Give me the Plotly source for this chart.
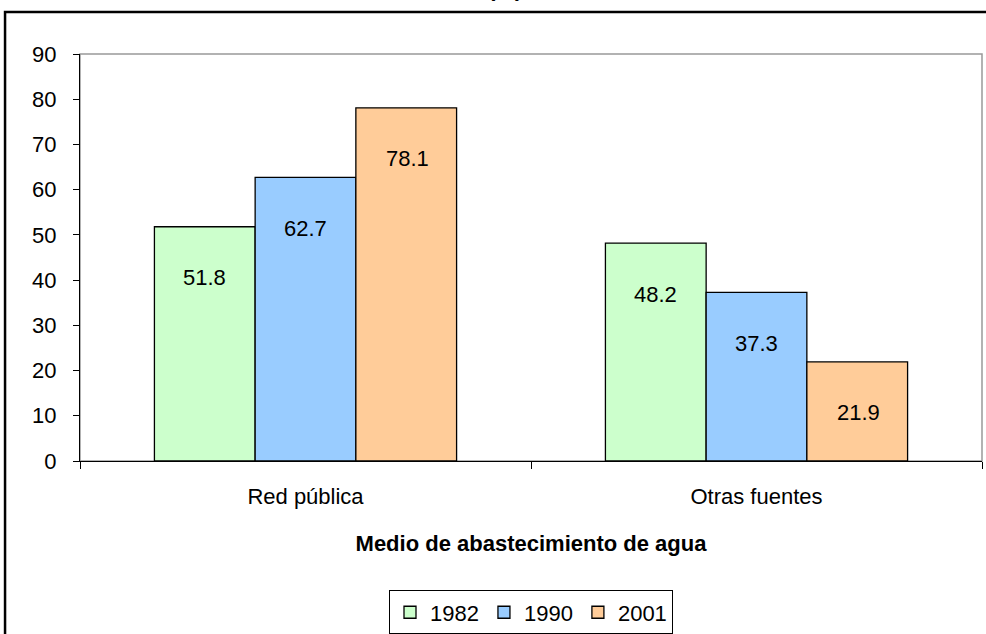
import plotly.graph_objects as go

categories = ["Red pública", "Otras fuentes"]
years = ["1982", "1990", "2001"]
values_1982 = [51.8, 48.2]
values_1990 = [62.7, 37.3]
values_2001 = [78.1, 21.9]
colors = ["#CCFFCC", "#99CCFF", "#FFCC99"]

series = [values_1982, values_1990, values_2001]
FONT = "Liberation Sans, Arial, sans-serif"
FS = 22

fig = go.Figure()
for yr, vals, col in zip(years, series, colors):
    fig.add_trace(go.Bar(
        name=yr, x=categories, y=vals,
        marker=dict(color=col, line=dict(color="black", width=1.3)),
        textposition="none",
        offsetgroup=yr,
    ))

# data labels near the top inside each bar
n = len(years)
for i, (yr, vals) in enumerate(zip(years, series)):
    for j, v in enumerate(vals):
        fig.add_annotation(
            x=j, y=v, xref="x", yref="y",
            text=f"{v:.1f}", showarrow=False,
            xshift=(i - (n - 1) / 2) * 101.5,
            yshift=-51,
            font=dict(size=FS, color="black", family=FONT),
        )

fig.update_layout(
    width=986, height=634,
    margin=dict(l=80, r=4, t=54, b=173, autoexpand=False),
    paper_bgcolor="white", plot_bgcolor="white",
    barmode="group", bargap=0.33, bargroupgap=0,
    font=dict(family=FONT, size=FS, color="black"),
    showlegend=True,
    legend=dict(
        orientation="h", x=0.5, xanchor="center", y=-0.318, yanchor="top",
        bordercolor="black", borderwidth=1, bgcolor="white",
        font=dict(size=FS, family=FONT), itemwidth=30, tracegroupgap=0,
    ),
    xaxis=dict(
        type="category", showline=True, linecolor="black", linewidth=1.3,
        ticks="outside", tickson="boundaries", ticklen=7, tickcolor="black",
        showgrid=False, automargin=False, ticklabelstandoff=15,
        title=dict(text="<b>Medio de abastecimiento de agua</b>", standoff=28,
                   font=dict(size=FS, family=FONT)),
        tickfont=dict(size=FS, family=FONT),
    ),
    yaxis=dict(
        range=[0, 90], dtick=10, tick0=0, showline=True, linecolor="black",
        linewidth=1.3, ticks="outside", ticklen=6, tickcolor="black",
        showgrid=False, zeroline=False, automargin=False, ticklabelstandoff=12,
        tickfont=dict(size=FS, family=FONT),
    ),
    shapes=[
        dict(type="rect", xref="paper", yref="paper", x0=0, x1=1, y0=0, y1=1,
             line=dict(color="#999999", width=1.5), layer="below"),
        dict(type="rect", xref="paper", yref="paper", x0=-0.0831, x1=1.2,
             y0=-0.6, y1=1.1032, line=dict(color="black", width=2.5), layer="above"),
    ],
)
fig.add_annotation(
    text="<b>(%)</b>", xref="paper", yref="paper", x=0.471, y=1.125,
    yanchor="bottom", showarrow=False, font=dict(size=FS, family=FONT),
)

fig.write_html("out.html", config={"displayModeBar": False},
               post_script="document.body.style.margin='0px';")
